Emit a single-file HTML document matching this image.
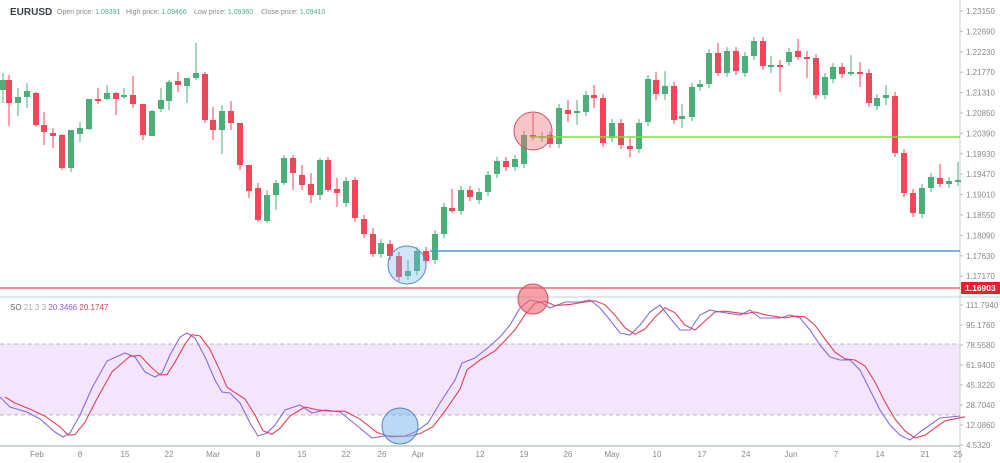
<!DOCTYPE html>
<html><head><meta charset="utf-8"><style>
body{margin:0;background:#fff;}
svg{display:block;font-family:"Liberation Sans",sans-serif;}
</style></head><body>
<svg id="s" width="1000" height="463" viewBox="0 0 1000 463" xmlns="http://www.w3.org/2000/svg">
<rect width="1000" height="463" fill="#fff"/>
<text x="10" y="15" font-size="10" font-weight="bold" fill="#3a3f4a">EURUSD</text>
<text x="57" y="14" font-size="7" fill="#888">Open price: <tspan fill="#4caf8a">1.09391</tspan></text>
<text x="126" y="14" font-size="7" fill="#888">High price: <tspan fill="#4caf8a">1.09466</tspan></text>
<text x="194" y="14" font-size="7" fill="#888">Low price: <tspan fill="#4caf8a">1.09360</tspan></text>
<text x="261" y="14" font-size="7" fill="#888">Close price: <tspan fill="#4caf8a">1.09410</tspan></text>
<rect x="0" y="344" width="960" height="71" fill="#f3e5fb"/>
<line x1="0" y1="344" x2="960" y2="344" stroke="#aaa" stroke-dasharray="4,3" stroke-width="0.8"/>
<line x1="0" y1="415" x2="960" y2="415" stroke="#aaa" stroke-dasharray="4,3" stroke-width="0.8"/>
<line x1="960" y1="0" x2="960" y2="463" stroke="#ccc" stroke-width="1"/>
<line x1="0" y1="297" x2="1000" y2="297" stroke="#b8d4e0" stroke-width="1"/>
<line x1="0" y1="446" x2="960" y2="446" stroke="#9aa" stroke-width="1"/>
<g id="c"></g>
<line x1="530" y1="137" x2="960" y2="137" stroke="#7be23a" stroke-width="1.5"/>
<line x1="430" y1="251" x2="960" y2="251" stroke="#4a9ad8" stroke-width="1.5"/>
<line x1="0" y1="288" x2="960" y2="288" stroke="#e24a5a" stroke-width="1.2"/>
<circle cx="533" cy="131" r="19" fill="rgba(240,110,120,0.4)" stroke="#d05060" stroke-width="1"/>
<circle cx="407" cy="265" r="19" fill="rgba(120,180,235,0.35)" stroke="#4a8ac8" stroke-width="1"/>
<g id="o"></g>
<circle cx="533" cy="299" r="15" fill="rgba(240,100,110,0.6)" stroke="#d05060"/>
<circle cx="400" cy="426" r="18" fill="rgba(120,180,235,0.5)" stroke="#4a8ac8"/>
<text x="10" y="310" font-size="8" fill="#666">SO <tspan fill="#aaa">21 3 3</tspan> <tspan fill="#9b59d8">20.3466</tspan> <tspan fill="#e0405a">20.1747</tspan></text>
<rect x="961" y="282" width="39" height="12" fill="#e8202e"/>
<text x="965" y="291" font-size="8.5" fill="#fff" font-weight="bold">1.16903</text>
<g font-size="8" fill="#888" id="ax"></g>
</svg>
<script>
var C=[[3,90,80,73,103],[9,80,103,75,126],[18,103,97,88,116],[27,97,91,83,108],[36,93,125,92,127],[44,125,132,112,145],[53,133,136,128,148],[62,135,168,134,170],[71,168,130,130,172],[80,134,128,122,142],[89,129,99,99,130],[98,99,100,88,104],[107,99,93,85,100],[116,93,99,92,115],[124,97,95,88,99],[133,95,104,76,108],[143,104,135,104,140],[152,136,111,110,136],[161,109,100,88,112],[169,101,82,80,110],[178,81,85,72,92],[187,86,78,78,103],[196,78,73,43,80],[205,74,120,72,123],[213,120,130,107,140],[222,130,111,105,154],[231,111,123,101,130],[240,123,165,123,170],[249,165,191,165,198],[258,188,220,183,222],[267,221,195,190,223],[276,195,183,180,210],[284,183,158,155,185],[293,158,173,155,190],[302,175,185,165,190],[311,184,195,173,203],[320,195,160,158,200],[328,160,190,157,192],[337,189,193,178,207],[346,203,181,177,207],[355,180,218,177,222],[364,219,234],[373,234,254,228,257],[381,254,243],[390,244,256],[399,256,277],[408,276,271,260,280],[417,271,251],[426,251,261],[435,260,234],[444,234,207],[452,208,211,189,213],[461,211,190],[470,190,197],[479,200,192],[488,192,175],[497,174,161],[506,161,167],[515,167,159],[524,164,135],[533,135,137,113,140],[542,138,136],[550,135,144],[559,144,108],[568,110,114,100,122],[577,113,111,100,125],[586,112,95],[594,95,98,85,108],[603,98,143],[612,138,123],[621,123,145],[630,146,149,137,157],[639,149,123],[648,122,79],[656,80,94,72,100],[665,94,86,71,100],[674,86,120],[682,119,116,104,128],[692,117,87],[700,87,84],[709,84,53],[718,53,73,43,76],[727,73,51],[736,51,71],[745,73,56],[754,56,41],[763,41,66],[771,66,65,56,73],[780,65,66,60,92],[789,62,52],[798,51,57,39,60],[807,57,58,51,78],[816,58,95],[825,95,77],[833,79,67],[842,67,74],[851,74,72,55,76],[860,72,73,62,87],[869,73,103],[877,106,98],[886,98,95,85,105],[895,96,153],[904,153,193],[913,193,213],[922,214,188],[931,188,177],[940,178,184,164,187],[949,184,181],[958,182,180,162,186]];
var g='';C.forEach(function(c){var x=c[0],o=c[1],cl=c[2],t=Math.min(o,cl),b=Math.max(o,cl),h=c[3]||t-4,l=c[4]||b+4,col=cl<o?'#4caf7a':'#f0475a';if(b-t<2){b=t+2;}g+='<line x1="'+x+'" y1="'+h+'" x2="'+x+'" y2="'+l+'" stroke="'+col+'" stroke-width="1"/><rect x="'+(x-3)+'" y="'+t+'" width="6" height="'+(b-t)+'" fill="'+col+'"/>';});
document.getElementById('c').innerHTML=g;
var P=[[0,397],[10,407],[27,412],[40,419],[55,432],[63,437],[70,433],[80,415],[92,388],[107,361],[125,353],[135,357],[145,372],[155,377],[162,373],[170,355],[180,337],[187,333],[195,338],[205,357],[215,380],[222,392],[230,393],[240,403],[250,423],[258,436],[267,433],[275,425],[285,410],[300,405],[312,413],[325,410],[340,412],[355,424],[372,438],[385,436],[405,436],[415,432],[428,423],[440,403],[455,380],[462,363],[475,358],[490,346],[500,337],[510,325],[520,308],[530,300],[540,302],[550,308],[565,302],[580,302],[590,300],[600,308],[610,320],[620,333],[630,335],[640,325],[650,312],[660,305],[670,318],[680,330],[690,330],[700,315],[710,310],[720,312],[740,315],[750,310],[760,318],[780,318],[790,315],[800,318],[810,330],[820,345],[830,357],[840,360],[850,360],[860,370],[870,390],[880,410],[890,425],[900,435],[910,440],[920,432],[930,425],[940,418],[960,416]];
function pl(pts,dx,dy,col){return '<polyline fill="none" stroke="'+col+'" stroke-width="1.1" points="'+pts.map(function(p){return (p[0]+dx)+','+(p[1]+dy)}).join(' ')+'"/>';}
var R=P.map(function(p,i){var q=P[Math.max(0,i-1)];return [p[0],(p[1]*0.6+q[1]*0.4)];});
document.getElementById('o').innerHTML=pl(P,0,0,'#8a6ad8')+pl(R,5,0,'#e0405a');
var ax='';var pr=['1.23150','1.22690','1.22230','1.21770','1.21310','1.20850','1.20390','1.19930','1.19470','1.19010','1.18550','1.18090','1.17630','1.17170'];
pr.forEach(function(t,i){var y=11+i*20.4;ax+='<line x1="960" y1="'+y+'" x2="963" y2="'+y+'" stroke="#bbb"/><text x="966" y="'+(y+3)+'">'+t+'</text>';});
var os=[['111.7940',305],['95.1760',325],['78.5580',345],['61.9400',365],['45.3220',385],['28.7040',405],['12.0860',425],['4.5320',445]];
os.forEach(function(o){ax+='<line x1="960" y1="'+o[1]+'" x2="963" y2="'+o[1]+'" stroke="#bbb"/><text x="966" y="'+(o[1]+3)+'">'+o[0]+'</text>';});
var d=[['Feb',37],['8',80],['15',125],['22',169],['Mar',213],['8',258],['15',302],['22',346],['26',382],['Apr',418],['12',480],['19',524],['26',568],['May',612],['10',657],['17',702],['24',746],['Jun',791],['7',836],['14',880],['21',925],['25',958]];
d.forEach(function(e){ax+='<text x="'+e[1]+'" y="457" text-anchor="middle">'+e[0]+'</text>';});
document.getElementById('ax').innerHTML=ax;
</script>
</body></html>
